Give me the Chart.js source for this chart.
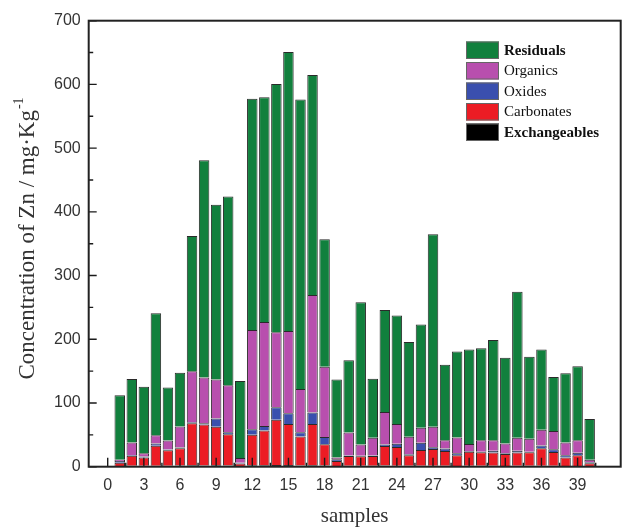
<!DOCTYPE html>
<html>
<head>
<meta charset="utf-8">
<script src="https://cdn.jsdelivr.net/npm/chart.js@4/dist/chart.umd.min.js"></script>
<style>
  html, body { margin: 0; padding: 0; background: #fff; }
  #wrap { width: 622px; height: 527px; }
</style>
</head>
<body>
<div id="wrap"><canvas id="c" width="622" height="527"></canvas></div>
<script>
// Zn fractions per sample, mg/kg
const samples = [1,2,3,4,5,6,7,8,9,10,11,12,13,14,15,16,17,18,19,20,
                 21,22,23,24,25,26,27,28,29,30,31,32,33,34,35,36,37,38,39,40];
const exchangeables = [1.2,1.5,1.3,1.6,1.4,1.8,2.1,2.0,2.2,1.9,1.0,2.3,2.4,2.5,2.6,2.0,2.4,1.8,1.2,1.4,
                       1.5,1.4,1.7,1.6,1.3,1.5,1.6,1.4,1.2,1.5,1.4,1.3,1.2,1.4,1.3,1.6,1.4,1.1,1.2,0.9];
const carbonates = [5.1,15.8,13.3,31.4,24.6,27.0,65.9,64.4,60.6,48.9,4.2,47.7,54.6,71.0,64.4,45.5,64.8,33.5,7.8,15.4,
                    14.8,15.3,30.7,29.4,16.7,24.6,26.1,23.1,16.6,22.0,21.3,20.9,18.8,20.8,21.2,27.2,21.6,13.5,16.8,4.6];
const oxides = [2.7,1.2,1.4,3.6,1.0,1.2,1.6,1.6,12.7,3.2,1.0,8.6,7.0,20.0,16.7,6.7,17.8,11.2,2.5,0.7,
                0.7,0.8,2.6,5.0,1.5,11.6,2.8,4.0,3.2,1.0,0.8,2.8,1.0,2.8,1.0,4.5,4.3,3.4,3.7,1.5];
const organics = [2.0,19.5,5.0,12.9,14.0,33.0,80.4,72.0,61.5,74.0,7.3,155.9,163.0,117.5,129.3,67.8,184.5,110.5,2.8,36.2,
                  18.0,28.0,51.0,31.0,27.5,23.3,32.3,12.9,24.7,11.3,17.9,16.4,15.6,20.5,20.5,24.7,28.7,20.0,19.7,4.0];
const residuals = [101.0,99.6,104.6,191.2,83.5,84.5,212.0,341.0,274.0,296.0,121.0,363.1,353.0,389.6,438.0,454.5,345.2,199.8,122.7,113.3,
                   223.0,92.5,160.0,170.5,148.7,162.0,302.2,118.6,135.3,148.2,144.6,157.6,134.4,229.2,128.7,126.0,84.7,108.5,116.1,63.8];

const xTickValues = [0,3,6,9,12,15,18,21,24,27,30,33,36,39];
const yTickValues = [0,100,200,300,400,500,600,700];

const fractions = [
  { label: 'Exchangeables', values: exchangeables, color: '#000000', bold: true },
  { label: 'Carbonates',    values: carbonates,    color: '#ec1c24', bold: false },
  { label: 'Oxides',        values: oxides,        color: '#3a4fae', bold: false },
  { label: 'Organics',      values: organics,      color: '#b84fae', bold: false },
  { label: 'Residuals',     values: residuals,     color: '#11803d', bold: true }
];

const serif = "'Liberation Serif', 'Times New Roman', serif";
const sans = "'Liberation Sans', Arial, sans-serif";

// inward tick marks and the closed frame around the plot
const framePlugin = {
  id: 'frame',
  afterDatasetsDraw(chart) {
    const { ctx, chartArea: a, scales: { x, y } } = chart;
    ctx.save();
    ctx.strokeStyle = '#1a1a1a';
    ctx.lineWidth = 1.4;
    ctx.beginPath();
    xTickValues.forEach(v => {
      const px = x.getPixelForValue(v);
      ctx.moveTo(px, a.bottom); ctx.lineTo(px, a.bottom - 9);
      const m = v + 1.5;
      if (m < x.max) {
        const pm = x.getPixelForValue(m);
        ctx.moveTo(pm, a.bottom); ctx.lineTo(pm, a.bottom - 4);
      }
    });
    yTickValues.forEach(v => {
      const py = y.getPixelForValue(v);
      ctx.moveTo(a.left, py); ctx.lineTo(a.left + 8, py);
      const m = v + 50;
      if (m < y.max) {
        const pm = y.getPixelForValue(m);
        ctx.moveTo(a.left, pm); ctx.lineTo(a.left + 4.5, pm);
      }
    });
    ctx.stroke();
    ctx.lineWidth = 2;
    ctx.strokeStyle = '#222';
    ctx.strokeRect(a.left, a.top, a.right - a.left, a.bottom - a.top);
    ctx.restore();
  }
};

// legend listed from the top of the stack downwards
const legendPlugin = {
  id: 'stackLegend',
  afterDraw(chart) {
    const { ctx } = chart;
    ctx.save();
    const items = chart.data.datasets.slice().reverse();
    items.forEach((ds, i) => {
      const top = 41.5 + i * 20.5;
      ctx.fillStyle = ds.backgroundColor;
      ctx.fillRect(466, top, 33, 17.5);
      ctx.strokeStyle = '#666';
      ctx.lineWidth = 1;
      ctx.strokeRect(466.5, top + 0.5, 32, 16.5);
      ctx.fillStyle = '#111';
      ctx.font = (ds.boldLabel ? 'bold ' : '') + '15px ' + serif;
      ctx.textAlign = 'left';
      ctx.textBaseline = 'middle';
      ctx.fillText(ds.label, 504, top + 9.5);
    });
    ctx.restore();
  }
};

// axis titles, with the superscript on the unit
const titlePlugin = {
  id: 'axisTitles',
  afterDraw(chart) {
    const { ctx, chartArea: a } = chart;
    ctx.save();
    ctx.fillStyle = '#333';
    ctx.textBaseline = 'alphabetic';
    ctx.font = '21px ' + serif;
    ctx.textAlign = 'center';
    ctx.fillText('samples', (a.left + a.right) / 2, 522);

    const main = 'Concentration of Zn / mg\u00B7Kg';
    const sup = '-1';
    ctx.font = '23px ' + serif;
    const wMain = ctx.measureText(main).width;
    ctx.font = '14px ' + serif;
    const wSup = ctx.measureText(sup).width;
    const total = wMain + wSup;
    ctx.translate(34, 239);
    ctx.rotate(-Math.PI / 2);
    ctx.textAlign = 'left';
    ctx.font = '23px ' + serif;
    ctx.fillText(main, -total / 2, 0);
    ctx.font = '14px ' + serif;
    ctx.fillText(sup, -total / 2 + wMain + 1, -11);
    ctx.restore();
  }
};

new Chart(document.getElementById('c'), {
  type: 'bar',
  data: {
    datasets: fractions.map(f => ({
      label: f.label,
      data: samples.map((s, i) => ({ x: s, y: f.values[i] })),
      backgroundColor: f.color,
      borderColor: '#2a2a2a',
      borderWidth: 1,
      boldLabel: f.bold,
      barPercentage: 0.87,
      categoryPercentage: 1
    }))
  },
  options: {
    responsive: false,
    animation: false,
    devicePixelRatio: 1,
    layout: { padding: { top: 20.7, right: 1.3, left: 0, bottom: 0 } },
    plugins: { legend: { display: false }, tooltip: { enabled: false } },
    scales: {
      x: {
        type: 'linear',
        min: 0,
        max: 41,
        stacked: true,
        grid: { display: false, drawTicks: false },
        border: { display: false },
        ticks: {
          stepSize: 3,
          includeBounds: false,
          autoSkip: false,
          maxRotation: 0,
          padding: 9,
          color: '#333',
          font: { family: sans, size: 16 }
        },
        afterFit(s) { s.height = 60.3; }
      },
      y: {
        min: 0,
        max: 700,
        stacked: true,
        grid: { display: false, drawTicks: false },
        border: { display: false },
        ticks: {
          stepSize: 100,
          padding: 8,
          color: '#333',
          font: { family: sans, size: 16 }
        },
        afterFit(s) { s.width = 88.7; }
      }
    }
  },
  plugins: [framePlugin, legendPlugin, titlePlugin]
});
</script>
</body>
</html>
